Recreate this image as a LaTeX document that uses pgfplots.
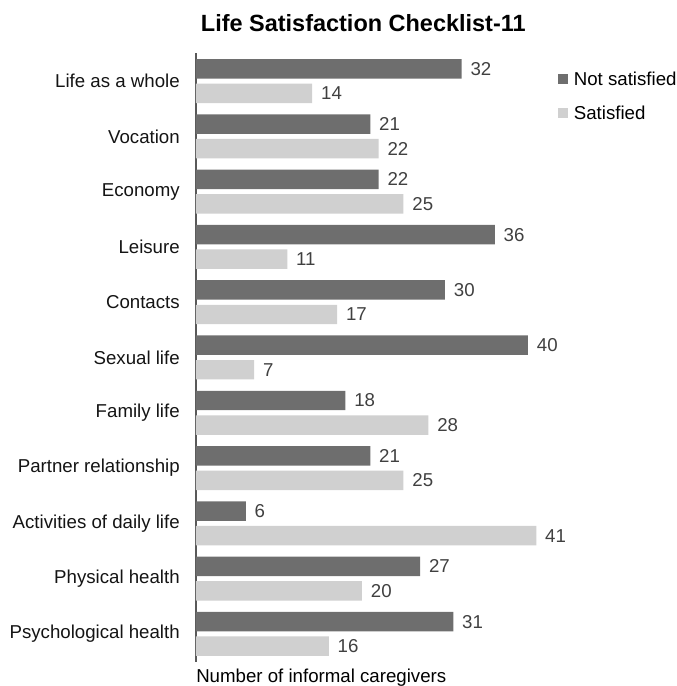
\documentclass[border=0pt]{standalone}
\usepackage{pgfplots}
\pgfplotsset{compat=1.18}
\usepackage{fontspec}
\setmainfont{Liberation Sans}
\definecolor{darkbar}{RGB}{110,110,110}
\definecolor{lightbar}{RGB}{208,208,208}
\definecolor{valtext}{RGB}{64,64,64}
\definecolor{axisline}{RGB}{89,89,89}
\begin{document}
\begin{tikzpicture}
\useasboundingbox (-147pt,-18.375pt) rectangle (360.75pt,496.125pt);
\begin{axis}[
 at={(0,0)}, anchor=south west,
 scale only axis, width=280.125pt, height=456pt,
 xbar, bar width=14.6pt,
 xmin=0, xmax=45, ymin=-0.5, ymax=10.5,
 axis y line*=left, axis x line*=bottom,
 x axis line style={draw=none},
 y axis line style={-, draw=axisline, line width=0.8pt},
 xtick=\empty,
 ytick={0,...,10},
 yticklabels={Psychological health, Physical health, Activities of daily life, Partner relationship, Family life, Sexual life, Contacts, Leisure, Economy, Vocation, Life as a whole},
 major tick length=0pt,
 tick label style={font=\fontsize{14}{16}\selectfont, text={rgb,255:red,20;green,20;blue,20}},
 yticklabel style={anchor=east, inner sep=0pt, xshift=-12pt},
 /pgf/number format/assume math mode=true,
 nodes near coords,
 nodes near coords style={font=\fontsize{14}{16}\selectfont, text=valtext, anchor=west, inner sep=0pt, xshift=6.5pt},
 xlabel={Number of informal caregivers},
 xlabel style={at={(axis description cs:0,0)}, anchor=west, inner sep=0pt, yshift=-12.2pt, font=\fontsize{14}{16}\selectfont},
 title={Life Satisfaction Checklist-11},
 title style={at={(axis description cs:0.448,1)}, anchor=center, yshift=16.8pt, inner sep=0pt, font=\bfseries\fontsize{17.6}{20}\selectfont},
 legend style={draw=none, fill=none, at={(axis description cs:0.969,0.975)}, anchor=north west, inner sep=0pt, row sep=9.75pt, column sep=2.25pt, font=\fontsize{14}{16}\selectfont},
 legend cell align=left,
 legend image code/.code={\fill[#1] (0pt,-3.75pt) rectangle (7.5pt,3.75pt);},
]
\addplot[fill=darkbar, draw=none, bar shift=9.2pt] coordinates {(32,10) (21,9) (22,8) (36,7) (30,6) (40,5) (18,4) (21,3) (6,2) (27,1) (31,0)};
\addplot[fill=lightbar, draw=none, bar shift=-9.2pt] coordinates {(14,10) (22,9) (25,8) (11,7) (17,6) (7,5) (28,4) (25,3) (41,2) (20,1) (16,0)};
\legend{Not satisfied, Satisfied}
\end{axis}
\end{tikzpicture}
\end{document}
